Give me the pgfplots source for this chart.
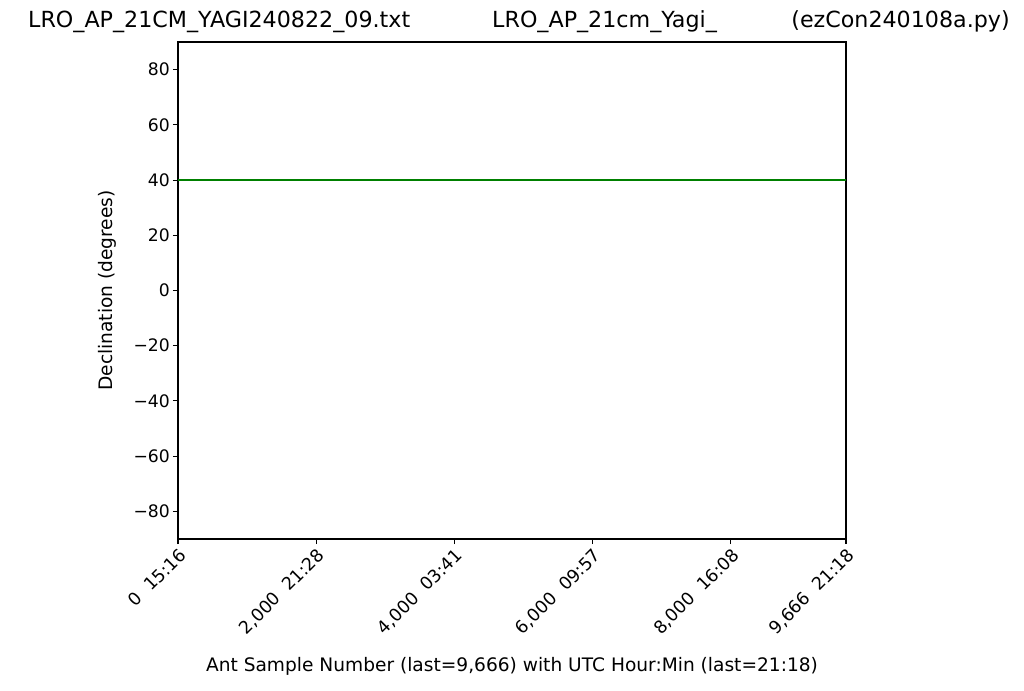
\documentclass[border=0pt]{standalone}
\usepackage{fontspec}
\setmainfont{DejaVu Sans}
\usepackage{pgfplots}
\pgfplotsset{compat=1.18}
\begin{document}
\begin{tikzpicture}[x=1pt,y=1pt]
\path[use as bounding box] (-178pt,-151pt) rectangle (846pt,539pt);
\begin{axis}[
  at={(0pt,0pt)}, anchor=south west,
  scale only axis, width=668pt, height=497pt,
  xmin=0, xmax=9666, ymin=-90, ymax=90,
  axis line style={line width=1.1pt},
  tick align=outside, tick pos=left,
  major tick length=5pt,
  every tick/.style={black, line width=1.1pt},
  xtick={0,2000,4000,6000,8000,9666},
  xticklabels={0\ \ 15:16,{2,000\ \ 21:28},{4,000\ \ 03:41},{6,000\ \ 09:57},{8,000\ \ 16:08},{9,666\ \ 21:18}},
  ytick={-80,-60,-40,-20,0,20,40,60,80},
  yticklabels={−80,−60,−40,−20,0,20,40,60,80},
  xticklabel style={font=\fontsize{17.5}{20}\selectfont, rotate=45, anchor=north east, inner sep=2pt},
  yticklabel style={font=\fontsize{17.2}{20}\selectfont, inner sep=3pt},
  xlabel={Ant Sample Number (last=9,666) with UTC Hour:Min (last=21:18)},
  ylabel={Declination (degrees)},
  label style={font=\fontsize{18.6}{22}\selectfont},
  xlabel style={at={(0.5,0)}, anchor=base, yshift=-132pt},
  ylabel style={at={(0,0.5)}, anchor=center, rotate=0, yshift=71pt},
]
\addplot[color={rgb,255:red,0;green,128;blue,0}, line width=2.1pt] coordinates {(0,40) (9666,40)};
\end{axis}
\node[anchor=base west, font=\fontsize{22.2}{26}\selectfont, inner sep=0pt] at (-150pt,511pt) {LRO\_AP\_21CM\_YAGI240822\_09.txt};
\node[anchor=base west, font=\fontsize{22.2}{26}\selectfont, inner sep=0pt] at (314pt,511pt) {LRO\_AP\_21cm\_Yagi\_};
\node[anchor=base east, font=\fontsize{22.2}{26}\selectfont, inner sep=0pt] at (832pt,511pt) {(ezCon240108a.py)};
\end{tikzpicture}
\end{document}
